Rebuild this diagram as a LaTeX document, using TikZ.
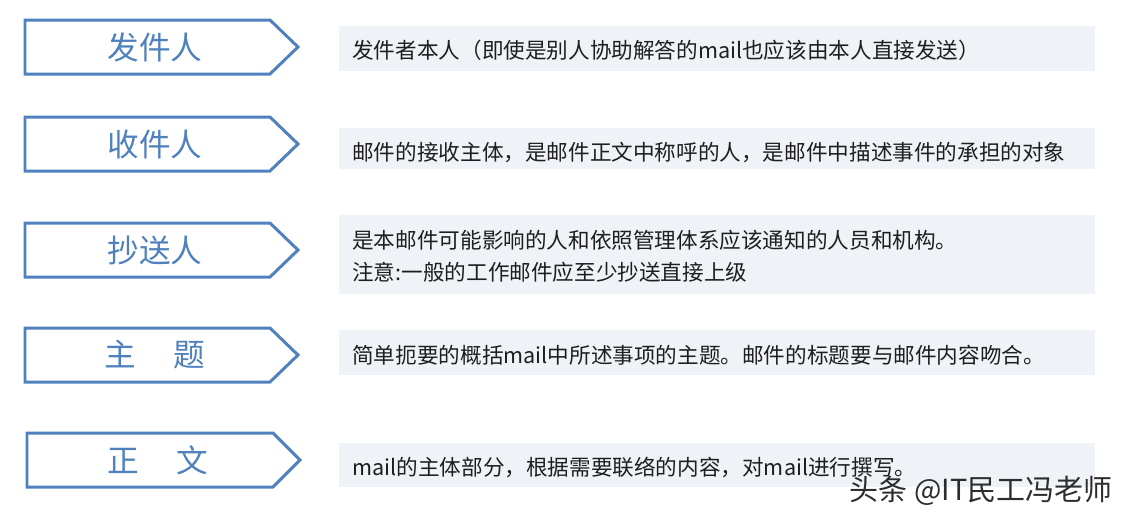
\documentclass[tikz,border=0pt]{standalone}
\usepackage{fontspec}
\setmainfont{Noto Sans CJK SC}
\usetikzlibrary{positioning}
\definecolor{tagblue}{RGB}{79,129,189}
\definecolor{boxgray}{RGB}{239,242,247}
\definecolor{txtdark}{RGB}{30,30,30}
\definecolor{markgray}{RGB}{45,45,45}
\tikzstyle{tag} = [line width=1.7pt,color=tagblue,line join=miter]
\tikzstyle{tagtext} = [text=tagblue,font=\fontsize{18}{20}\selectfont]
\tikzstyle{desc} = [anchor=west,inner sep=0pt,text=txtdark,font=\fontsize{12.3}{18.2}\selectfont]

\begin{document}
\begin{tikzpicture}[x=0.02cm,y=-0.02cm]
\useasboundingbox (0,0) rectangle (1130,522);

% Left tags
\draw[tag] (25,20) -- (270,20) -- (298,47) -- (270,74) -- (25,74) -- cycle;
\node[tagtext] (sender) at (155,47) {发件人};

\draw[tag] (25,117) -- (270,117) -- (298,144) -- (270,171) -- (25,171) -- cycle;
\node[tagtext] (receiver) at (155,144) {收件人};

\draw[tag] (25,223) -- (270,223) -- (298,250) -- (270,277) -- (25,277) -- cycle;
\node[tagtext] (cc) at (155,250) {抄送人};

\draw[tag] (25,328) -- (270,328) -- (298,355) -- (270,382) -- (25,382) -- cycle;
\node[tagtext] (subject) at (155,355) {主\hspace{1.2em}题};

\draw[tag] (27,433) -- (273,433) -- (300,460) -- (273,487) -- (27,487) -- cycle;
\node[tagtext] (body) at (158,460) {正\hspace{1.2em}文};

% Descriptions
\fill[boxgray] (339,26) rectangle (1095,71);
\node[desc] (senderdesc) at (352,50) {发件者本人（即使是别人协助解答的mail也应该由本人直接发送）};

\fill[boxgray] (339,128) rectangle (1095,169);
\node[desc] (receiverdesc) at (352,152) {邮件的接收主体，是邮件正文中称呼的人，是邮件中描述事件的承担的对象};

\fill[boxgray] (339,215) rectangle (1095,294);
\node[desc,align=left] (ccdesc) at (352,256) {是本邮件可能影响的人和依照管理体系应该通知的人员和机构。\\注意:一般的工作邮件应至少抄送直接上级};

\fill[boxgray] (339,330) rectangle (1095,375);
\node[desc] (subjectdesc) at (352,355) {简单扼要的概括mail中所述事项的主题。邮件的标题要与邮件内容吻合。};

\fill[boxgray] (339,443) rectangle (1095,487);
\node[desc] (bodydesc) at (352,467) {mail的主体部分，根据需要联络的内容，对mail进行撰写。};

% Watermark
\node[anchor=east,inner sep=0pt,text=markgray,font=\fontsize{16.5}{18}\selectfont] (mark) at (1113,491) {头条 @IT民工冯老师};
\end{tikzpicture}
\end{document}
